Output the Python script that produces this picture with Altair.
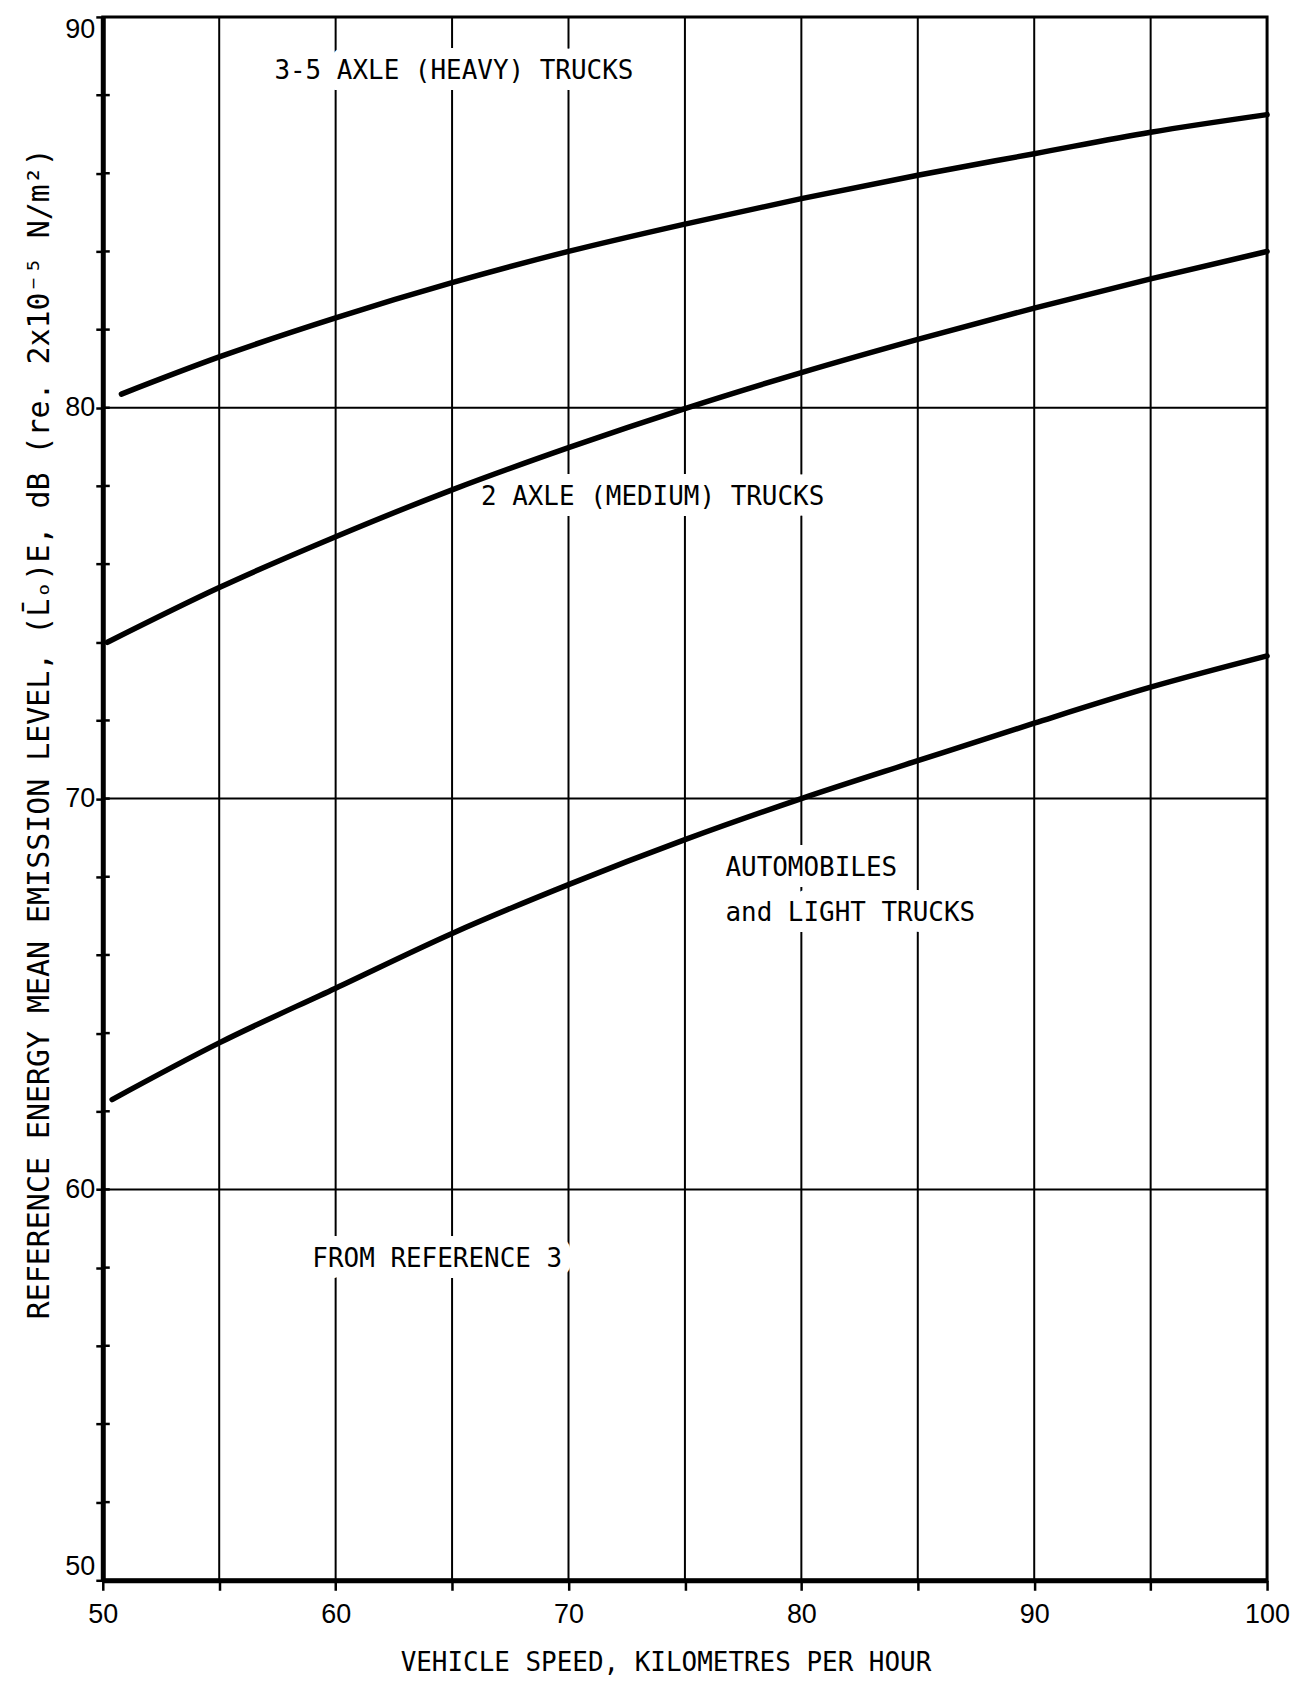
import altair as alt
import pandas as pd

# ---- data ----
speed_heavy = [50.8, 55, 60, 65, 70, 75, 80, 85, 90, 95, 100]
level_heavy = [80.35, 81.3, 82.3, 83.2, 84.0, 84.7, 85.35, 85.95, 86.5, 87.05, 87.5]

speed_medium = [50.2, 55, 60, 65, 70, 75, 80, 85, 90, 95, 100]
level_medium = [74.0, 75.4, 76.7, 77.9, 78.98, 79.98, 80.9, 81.75, 82.55, 83.3, 84.0]

speed_auto = [50.4, 55, 60, 65, 70, 75, 80, 85, 90, 95, 100]
level_auto = [62.3, 63.75, 65.15, 66.55, 67.8, 68.95, 70.0, 70.97, 71.93, 72.85, 73.65]

x_ticks = [50, 55, 60, 65, 70, 75, 80, 85, 90, 95, 100]
x_grid = [55, 60, 65, 70, 75, 80, 85, 90, 95]
y_ticks = list(range(50, 91, 2))
y_inner_ticks = list(range(52, 90, 2))
y_grid = [60, 70, 80]

label_texts = ["3-5 AXLE (HEAVY) TRUCKS", "2 AXLE (MEDIUM) TRUCKS", "AUTOMOBILES",
               "and LIGHT TRUCKS", "FROM REFERENCE 3"]
label_x = [57.37, 66.24, 76.74, 76.74, 59.0]
label_y = [88.61, 77.72, 68.23, 67.08, 58.22]

x_title = "VEHICLE SPEED, KILOMETRES PER HOUR"
y_title = "REFERENCE ENERGY MEAN EMISSION LEVEL, (L\u0304\u2092)E, dB (re. 2x10\u207b\u2075 N/m\u00b2)"

# ---- tables ----
curves = pd.concat([
    pd.DataFrame({"speed": speed_heavy, "level": level_heavy, "series": "heavy"}),
    pd.DataFrame({"speed": speed_medium, "level": level_medium, "series": "medium"}),
    pd.DataFrame({"speed": speed_auto, "level": level_auto, "series": "auto"}),
], ignore_index=True)
hgrid_df = pd.DataFrame({"level": y_grid})
vgrid_df = pd.DataFrame({"speed": x_grid})
inner_df = pd.DataFrame({"level": y_inner_ticks})
labels_df = pd.DataFrame({"speed": label_x, "level": label_y, "text": label_texts})
halo_df = pd.DataFrame({"hx": label_x, "hy": label_y, "htext": label_texts})

x_scale = alt.Scale(domain=[50, 100], nice=False, zero=False)
y_scale = alt.Scale(domain=[50, 90], nice=False, zero=False)

x_axis = alt.Axis(
    values=x_ticks,
    labelExpr="datum.value % 10 == 0 ? datum.label : ''",
    grid=False,
    domainColor="black", domainWidth=5,
    tickColor="black", tickWidth=2.5, tickSize=10,
    labelFont="Liberation Sans", labelFontSize=27, labelColor="black", labelPadding=11,
    labelFlush=False,
    title=x_title, titleFont="DejaVu Sans Mono", titleFontSize=26, titleFontWeight="normal",
    titleColor="black", titleX=564, titleY=82, titleBaseline="middle", titleAlign="center",
)
y_axis = alt.Axis(
    values=y_ticks,
    labelExpr="datum.value % 10 == 0 ? datum.label : ''",
    grid=False,
    domainColor="black", domainWidth=5,
    tickColor="black", tickWidth=2.5, tickSize=7,
    labelFont="Liberation Sans", labelFontSize=27, labelColor="black", labelPadding=1,
    labelFlush=True,
    title=y_title, titleFont="DejaVu Sans Mono", titleFontSize=30, titleFontWeight="normal",
    titleColor="black", titleX=-63, titleY=718, titleBaseline="middle", titleAlign="center",
    titleAngle=270,
)

X = lambda f="speed": alt.X(f"{f}:Q", scale=x_scale, axis=x_axis)
Y = lambda f="level": alt.Y(f"{f}:Q", scale=y_scale, axis=y_axis)

vgrid = alt.Chart(vgrid_df).mark_rule(color="black", strokeWidth=2).encode(x=X())
hgrid = alt.Chart(hgrid_df).mark_rule(color="black", strokeWidth=2).encode(y=Y())
halo = alt.Chart(halo_df).mark_text(
    align="left", baseline="middle", font="DejaVu Sans Mono", fontSize=26,
    fill="white", stroke="white", strokeWidth=22, strokeOpacity=1, strokeJoin="round"
).encode(x=X("hx"), y=Y("hy"), text="htext:N")
lines = alt.Chart(curves).mark_line(
    color="black", strokeWidth=5.5, strokeCap="round", interpolate="monotone"
).encode(x=X(), y=Y(), detail="series:N")
inner = alt.Chart(inner_df).mark_rule(color="black", strokeWidth=2.5).encode(
    y=Y(), x=alt.value(0), x2=alt.value(7),
)
texts = alt.Chart(labels_df).mark_text(
    align="left", baseline="middle", font="DejaVu Sans Mono", fontSize=26, color="black"
).encode(x=X(), y=Y(), text="text:N")

chart = alt.layer(vgrid, hgrid, halo, lines, inner, texts).properties(
    width=1167, height=1567,
    autosize=alt.AutoSizeParams(type="none"),
    padding={"left": 95, "top": 7, "right": 32, "bottom": 98},
    background="white",
).configure_view(stroke="black", strokeWidth=3)

chart.save("out.html", embed_options={"renderer": "svg", "actions": False})
